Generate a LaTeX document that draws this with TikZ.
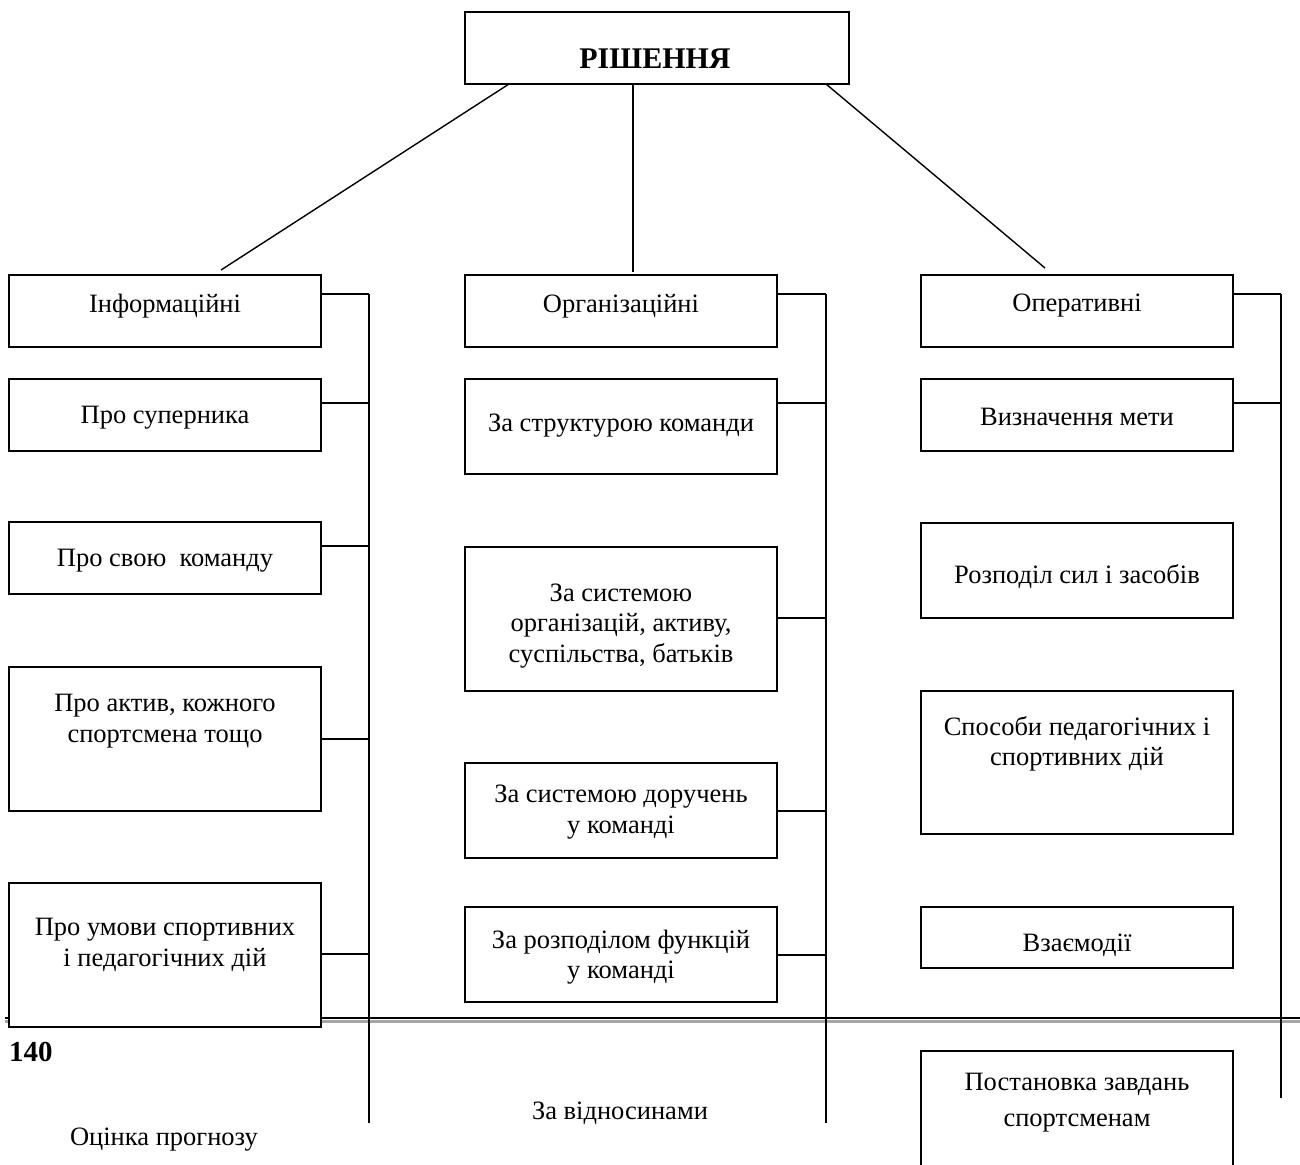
\documentclass[tikz,border=0pt]{standalone}
\usepackage{fontspec}
\setmainfont{Liberation Serif}
\usetikzlibrary{calc}
\tikzset{
  box/.style={draw, line width=1.9pt, fill=white, minimum width=312pt, anchor=north west, inner sep=0pt, outer sep=0pt},
  topbox/.style={draw, line width=1.9pt, fill=white, minimum width=384pt, minimum height=72pt, anchor=north west, inner sep=0pt, outer sep=0pt},
  conn/.style={line width=1.4pt},
  txt/.style={align=center, inner sep=0pt, font=\fontsize{26.5}{30.5}\selectfont},
}
\begin{document}
\begin{tikzpicture}[x=1pt,y=-1pt]
\useasboundingbox (0,0) rectangle (1300,1164);
\clip (0,0) rectangle (1300,1164);
% page break rule
\coordinate (pl) at (5,1018);
\coordinate (pr) at (1300,1018);
\draw[line width=3pt, gray!70] ($(pl)+(0,3.5)$) -- ($(pr)+(0,3.5)$);
\draw[line width=1.5pt] (pl) -- (pr);
% top box
\node[topbox] (top) at (465,12) {};
% column 1
\node[box, minimum height=72pt] (a1) at (9,275) {};
\node[box, minimum height=72pt] (a2) at (9,379) {};
\node[box, minimum height=72pt] (a3) at (9,522) {};
\node[box, minimum height=144pt] (a4) at (9,667) {};
\node[box, minimum height=144pt] (a5) at (9,883) {};
% column 2
\node[box, minimum height=72pt] (b1) at (465,275) {};
\node[box, minimum height=95pt] (b2) at (465,379) {};
\node[box, minimum height=144pt] (b3) at (465,547) {};
\node[box, minimum height=95pt] (b4) at (465,763) {};
\node[box, minimum height=95pt] (b5) at (465,907) {};
% column 3
\node[box, minimum height=72pt] (c1) at (921,275) {};
\node[box, minimum height=72pt] (c2) at (921,379) {};
\node[box, minimum height=95pt] (c3) at (921,523) {};
\node[box, minimum height=143pt] (c4) at (921,691) {};
\node[box, minimum height=61pt] (c5) at (921,907) {};
\node[box, minimum height=140pt] (c6) at (921,1051) {};
% lines from top box
\coordinate (e1) at (221,270);
\coordinate (e2) at (633,272);
\coordinate (e3) at (1045,268);
\draw[conn] ($(top.south west)+(44,0)$) -- (e1);
\draw[conn] ($(top.south west)+(168,0)$) -- (e2);
\draw[conn] ($(top.south west)+(361,0)$) -- (e3);
% spines
\coordinate (s1t) at (369,294); \coordinate (s1b) at (369,1123);
\coordinate (s2t) at (826,294); \coordinate (s2b) at (826,1123);
\coordinate (s3t) at (1281,294); \coordinate (s3b) at (1281,1098);
\draw[conn] (s1t) -- (s1b);
\draw[conn] (s2t) -- (s2b);
\draw[conn] (s3t) -- (s3b);
% connectors column 1
\draw[conn] (a1.north east) ++(0,19) coordinate (k) -- (k -| s1t);
\draw[conn] (a2.north east) ++(0,24) coordinate (k) -- (k -| s1t);
\draw[conn] (a3.north east) ++(0,24) coordinate (k) -- (k -| s1t);
\draw[conn] (a4.north east) ++(0,72) coordinate (k) -- (k -| s1t);
\draw[conn] (a5.north east) ++(0,71) coordinate (k) -- (k -| s1t);
% connectors column 2
\draw[conn] (b1.north east) ++(0,19) coordinate (k) -- (k -| s2t);
\draw[conn] (b2.north east) ++(0,24) coordinate (k) -- (k -| s2t);
\draw[conn] (b3.north east) ++(0,71) coordinate (k) -- (k -| s2t);
\draw[conn] (b4.north east) ++(0,48) coordinate (k) -- (k -| s2t);
\draw[conn] (b5.north east) ++(0,48) coordinate (k) -- (k -| s2t);
% connectors column 3
\draw[conn] (c1.north east) ++(0,19) coordinate (k) -- (k -| s3t);
\draw[conn] (c2.north east) ++(0,24) coordinate (k) -- (k -| s3t);
% texts
\node[txt, font=\fontsize{30}{34}\selectfont\bfseries] (ttop) at (655,59) {РІШЕННЯ};
\node[txt] (ta1) at (165,306) {Інформаційні};
\node[txt] (ta2) at (165,418) {Про суперника};
\node[txt] (ta3) at (165,561) {Про свою\ \ команду};
\node[txt] (ta4) at (165,721) {Про актив, кожного\\спортсмена тощо};
\node[txt] (ta5) at (165,945) {Про умови спортивних\\і педагогічних дій};
\node[txt] (tb1) at (621,306) {Організаційні};
\node[txt] (tb2) at (621,426) {За структурою команди};
\node[txt] (tb3) at (621,626) {За системою\\організацій, активу,\\суспільства, батьків};
\node[txt] (tb4) at (621,812) {За системою доручень\\у команді};
\node[txt] (tb5) at (621,957) {За розподілом функцій\\у команді};
\node[txt] (tc1) at (1077,306) {Оперативні};
\node[txt] (tc2) at (1077,417) {Визначення мети};
\node[txt] (tc3) at (1077,577) {Розподіл сил і засобів};
\node[txt] (tc4) at (1077,744) {Способи педагогічних і\\спортивних дій};
\node[txt] (tc5) at (1077,945) {Взаємодії};
\node[txt, font=\fontsize{26.5}{36}\selectfont] (tc6) at (1077,1103) {Постановка завдань\\спортсменам};
\node[txt, font=\fontsize{29}{33}\selectfont\bfseries, anchor=west] (pg) at (9,1052) {140};
\node[txt] (tx1) at (164,1140) {Оцінка прогнозу};
\node[txt] (tx2) at (620,1113) {За відносинами};
\end{tikzpicture}
\end{document}
